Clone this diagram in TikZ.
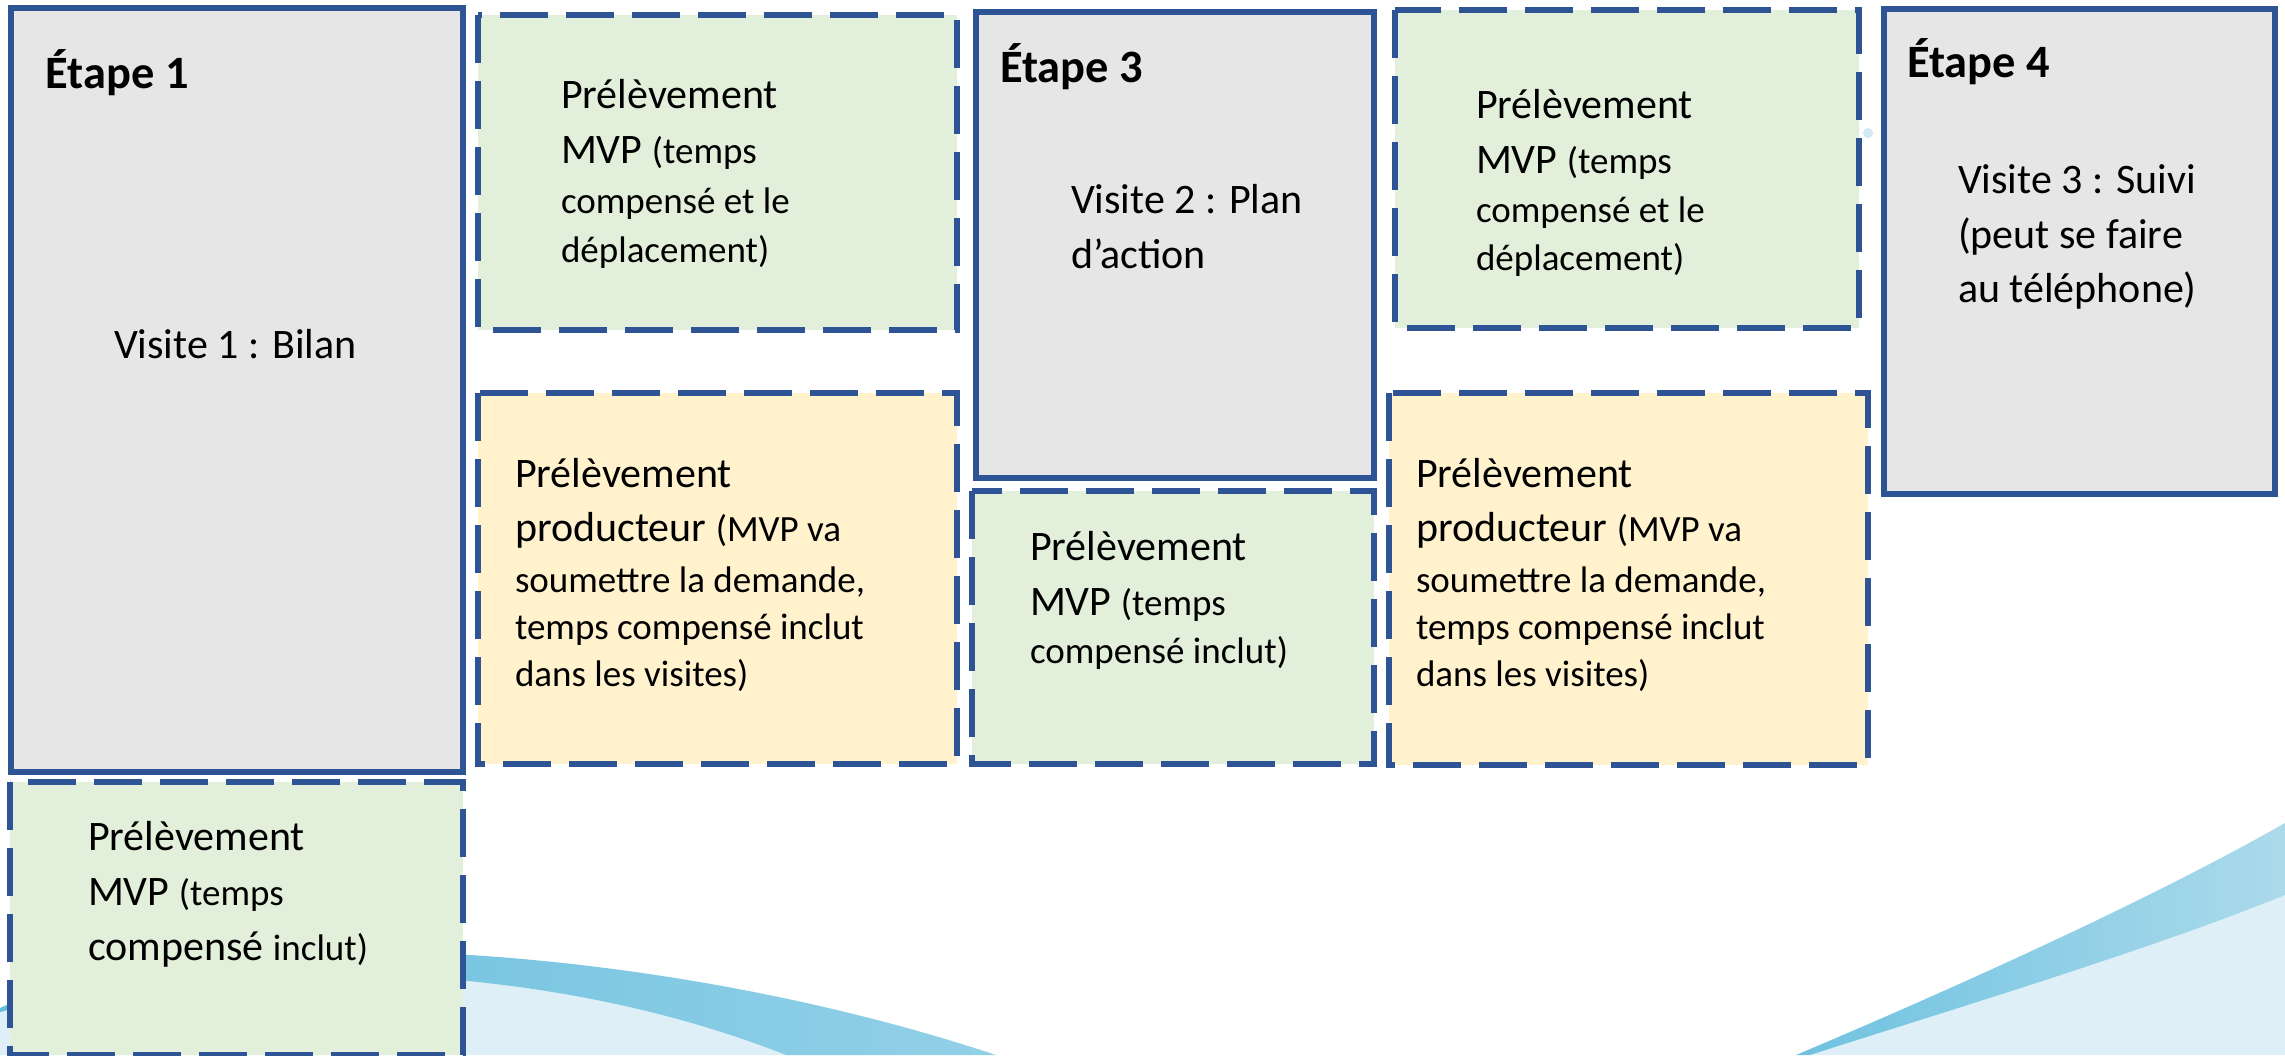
\documentclass[tikz,border=0pt]{standalone}
\usepackage{fontspec}
\setmainfont{Carlito}
\definecolor{bordblue}{HTML}{2F5496}
\definecolor{grayfill}{HTML}{E7E6E6}
\definecolor{greenfill}{HTML}{E2EFDA}
\definecolor{yellowfill}{HTML}{FFF2CC}
\definecolor{wavelight}{HTML}{DEEFF7}
\definecolor{wavedarkA}{HTML}{66BDDD}
\definecolor{wavedarkB}{HTML}{92D0E7}
\definecolor{wavedarkC}{HTML}{6FC2E0}
\definecolor{wavedarkD}{HTML}{ABDAEB}
\definecolor{dotblue}{HTML}{D2E8F4}
\newcommand\Lg{\fontsize{21}{25}\selectfont}
\newcommand\Sm{\fontsize{18.5}{22}\selectfont}
\newcommand\Ttl{\fontsize{23.2}{28}\selectfont\bfseries}
\newcommand\txtline[1]{\hbox{\smash{#1}}}
\newcommand\txtgap[1]{\vskip#1\relax}
\tikzset{
  solidbox/.style={draw=bordblue, line width=3pt, fill=grayfill},
  dashbox/.style={draw=bordblue, line width=3pt, dash pattern=on 24pt off 9pt},
  greenbox/.style={dashbox, fill=greenfill},
  yellowbox/.style={dashbox, fill=yellowfill},
  txt/.style={anchor=base west, inner sep=0pt, outer sep=0pt, text=black},
}
\begin{document}
\begin{tikzpicture}[x=0.5pt, y=-0.5pt]
\useasboundingbox (0,0) rectangle (2285,1055);
\clip (0,0) rectangle (2285,1055);
\fill[white] (0,0) rectangle (2285,1055);
% background waves
\fill[wavelight] (0,1012) .. controls (200,960) and (520,950) .. (786,1055) -- (0,1055) -- cycle;
\shade[left color=wavedarkA, right color=wavedarkB] (0,1008) .. controls (200,915) and (650,940) .. (996,1055) -- (786,1055) .. controls (520,950) and (200,960) .. (0,1012) -- cycle;
\fill[wavelight] (1810,1055) .. controls (1950,1010) and (2150,950) .. (2285,895) -- (2285,1055) -- cycle;
\shade[left color=wavedarkC, right color=wavedarkD] (1796,1055) .. controls (1950,990) and (2150,900) .. (2285,823) -- (2285,895) .. controls (2150,950) and (1950,1010) .. (1810,1055) -- cycle;
\fill[dotblue] (1868,133) circle (5);
% boxes
\draw[solidbox] (11,8) rectangle (463,772);
\draw[greenbox] (478,15) rectangle (957,330);
\draw[yellowbox] (478,393) rectangle (957,764);
\draw[solidbox] (976,12) rectangle (1374,478);
\draw[greenbox] (972,491) rectangle (1374,764);
\draw[greenbox] (1395,10) rectangle (1859,328);
\draw[yellowbox] (1389,393) rectangle (1868,765);
\draw[solidbox] (1884,9) rectangle (2275,494);
\draw[greenbox] (10,782) rectangle (463,1055);
% texts
\node[txt] (t1) at (46,88) {\Ttl Étape 1};
\node[txt] (v1) at (114,358) {\Lg Visite 1 : Bilan};
\node[txt] (g1) at (561,108) {\vtop{\offinterlineskip
  \txtline{\Lg Prélèvement}\txtgap{27.5pt}
  \txtline{\Lg MVP \Sm(temps}\txtgap{25pt}
  \txtline{\Sm compensé et le}\txtgap{24.5pt}
  \txtline{\Sm déplacement)}}};
\node[txt] (y1) at (515,487) {\vtop{\offinterlineskip
  \txtline{\Lg Prélèvement}\txtgap{27pt}
  \txtline{\Lg producteur \Sm(MVP va}\txtgap{25.5pt}
  \txtline{\Sm soumettre la demande,}\txtgap{23.75pt}
  \txtline{\Sm temps compensé inclut}\txtgap{23.5pt}
  \txtline{\Sm dans les visites)}}};
\node[txt] (t3) at (1000,82) {\Ttl Étape 3};
\node[txt] (v2) at (1071,213) {\vtop{\offinterlineskip
  \txtline{\Lg Visite 2 : Plan}\txtgap{27.5pt}
  \txtline{\Lg d’action}}};
\node[txt] (g3) at (1030,560) {\vtop{\offinterlineskip
  \txtline{\Lg Prélèvement}\txtgap{27.5pt}
  \txtline{\Lg MVP \Sm(temps}\txtgap{24pt}
  \txtline{\Sm compensé inclut)}}};
\node[txt] (g2) at (1476,118) {\vtop{\offinterlineskip
  \txtline{\Lg Prélèvement}\txtgap{27.5pt}
  \txtline{\Lg MVP \Sm(temps}\txtgap{24.5pt}
  \txtline{\Sm compensé et le}\txtgap{24pt}
  \txtline{\Sm déplacement)}}};
\node[txt] (y2) at (1416,487) {\vtop{\offinterlineskip
  \txtline{\Lg Prélèvement}\txtgap{27pt}
  \txtline{\Lg producteur \Sm(MVP va}\txtgap{25.5pt}
  \txtline{\Sm soumettre la demande,}\txtgap{23.75pt}
  \txtline{\Sm temps compensé inclut}\txtgap{23.5pt}
  \txtline{\Sm dans les visites)}}};
\node[txt] (t4) at (1907,77) {\Ttl Étape 4};
\node[txt] (v3) at (1958,193) {\vtop{\offinterlineskip
  \txtline{\Lg Visite 3 : Suivi}\txtgap{27.5pt}
  \txtline{\Lg (peut se faire}\txtgap{27pt}
  \txtline{\Lg au téléphone)}}};
\node[txt] (g4) at (88,850) {\vtop{\offinterlineskip
  \txtline{\Lg Prélèvement}\txtgap{27.5pt}
  \txtline{\Lg MVP \Sm(temps}\txtgap{27.5pt}
  \txtline{\Lg compensé \Sm inclut)}}};
\end{tikzpicture}
\end{document}
